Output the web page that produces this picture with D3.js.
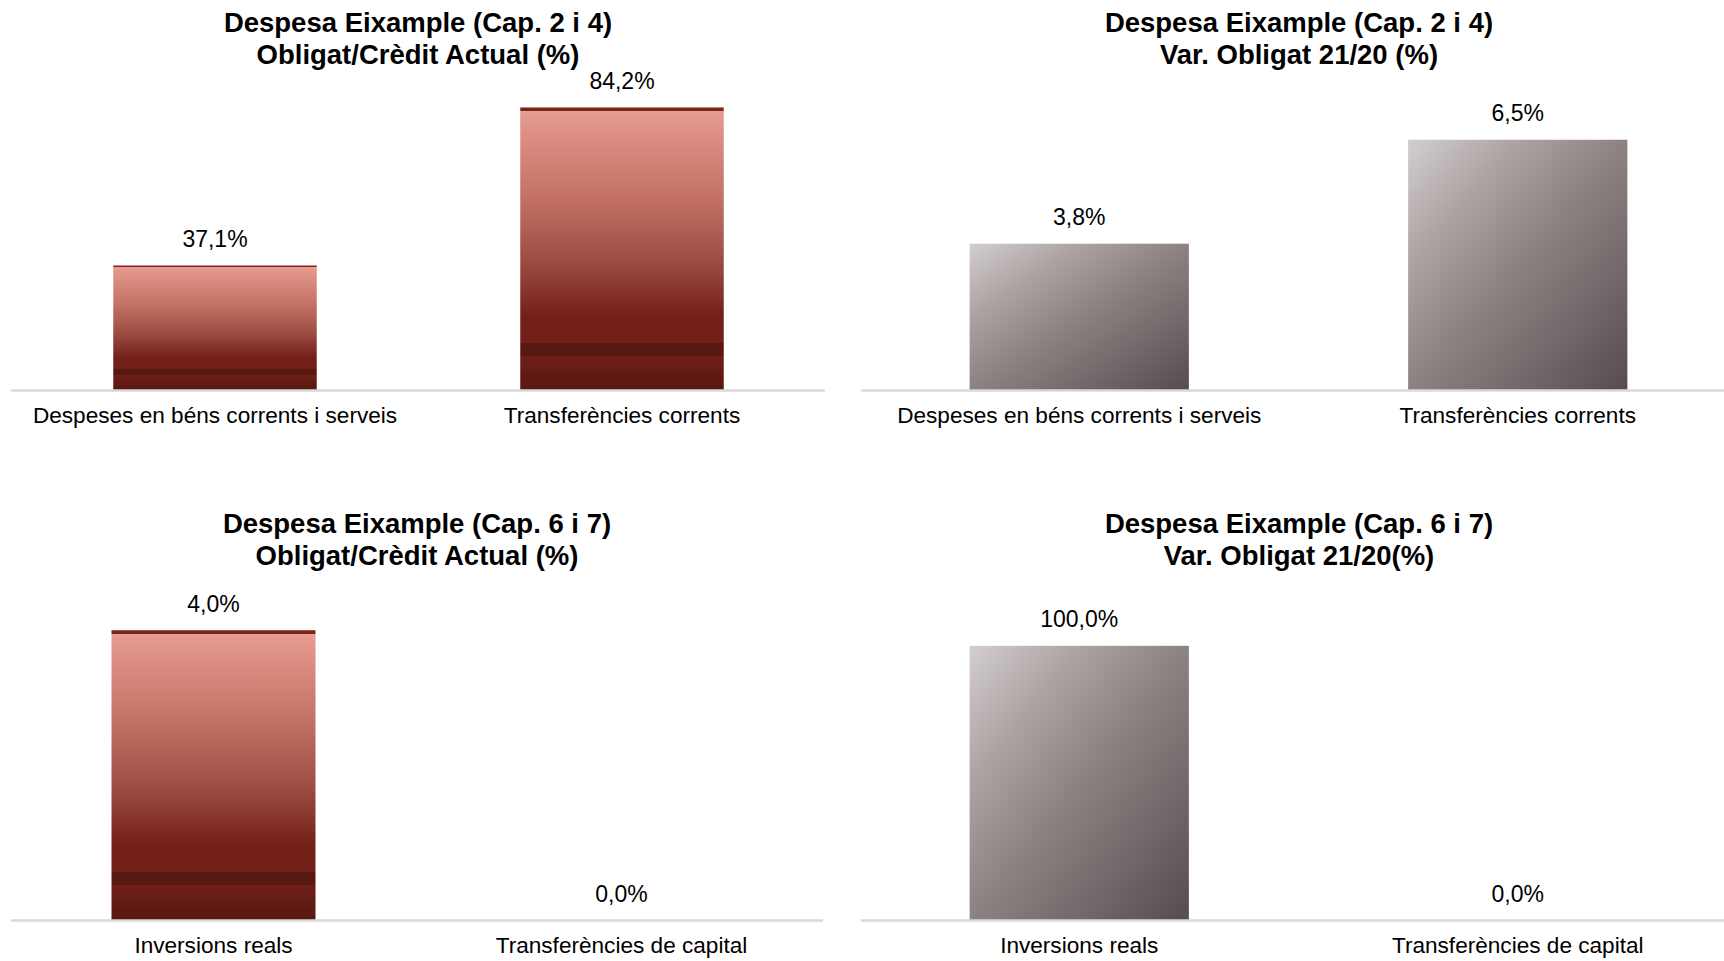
<!DOCTYPE html>
<html>
<head>
<meta charset="utf-8">
<script src="https://cdn.jsdelivr.net/npm/d3@7"></script>
<style>
  html, body { margin: 0; padding: 0; background: #ffffff; }
  svg { display: block; }
  text { font-family: "Liberation Sans", Arial, sans-serif; fill: #000; }
</style>
</head>
<body>
<script>
// ---- Data ----
const categoriesCap24 = ["Despeses en béns corrents i serveis", "Transferències corrents"];
const categoriesCap67 = ["Inversions reals", "Transferències de capital"];
const obligatCreditCap24 = [37.1, 84.2];
const varObligatCap24 = [3.8, 6.5];
const obligatCreditCap67 = [4.0, 0.0];
const varObligatCap67 = [100.0, 0.0];
const titleCap24 = "Despesa Eixample (Cap. 2 i 4)";
const titleCap67 = "Despesa Eixample (Cap. 6 i 7)";
const subtitleOblig = "Obligat/Crèdit Actual (%)";
const subtitleVar = "Var. Obligat 21/20 (%)";
const subtitleVar67 = "Var. Obligat 21/20(%)";
const domainMaxes = [90, 7, 4.5, 120];

// ---- Layout ----
const W = 1724, H = 961;
const svg = d3.select("body").append("svg").attr("width", W).attr("height", H);
const defs = svg.append("defs");

const red = defs.append("linearGradient").attr("id", "gradRed")
  .attr("x1", 0).attr("y1", 0).attr("x2", 0).attr("y2", 1);
[[0, "#7b2419"], [0.014, "#7b2419"], [0.014, "#e99c90"], [0.05, "#e2958a"],
 [0.3, "#c57467"], [0.55, "#9b4c41"], [0.74, "#74201a"], [0.835, "#722019"],
 [0.835, "#561811"], [0.88, "#561811"], [0.88, "#6f1f17"], [1, "#561811"]]
  .forEach(([o, c]) => red.append("stop").attr("offset", o).attr("stop-color", c));

const grey = defs.append("linearGradient").attr("id", "gradGrey")
  .attr("x1", 0).attr("y1", 0).attr("x2", 1).attr("y2", 1);
[[0, "#d3cece"], [0.25, "#ada3a3"], [0.5, "#8d8282"], [0.75, "#736869"], [1, "#574c4d"]]
  .forEach(([o, c]) => grey.append("stop").attr("offset", o).attr("stop-color", c));

const fmt = v => d3.format(".1f")(v).replace(".", ",") + "%";

const panels = [
  { cats: categoriesCap24, vals: obligatCreditCap24, t1: titleCap24, t2: subtitleOblig,
    x0: 11.5, x1: 825.5, axisX: [11, 825], y0: 390, yTop: 88, dmax: domainMaxes[0],
    fill: "url(#gradRed)", tx: 418, ty: 32 },
  { cats: categoriesCap24, vals: varObligatCap24, t1: titleCap24, t2: subtitleVar,
    x0: 860, x1: 1737, axisX: [861, 1724], y0: 390, yTop: 120.5, dmax: domainMaxes[1],
    fill: "url(#gradGrey)", tx: 1299, ty: 32 },
  { cats: categoriesCap67, vals: obligatCreditCap67, t1: titleCap67, t2: subtitleOblig,
    x0: 9.5, x1: 825.5, axisX: [11, 823], y0: 920, yTop: 594, dmax: domainMaxes[2],
    fill: "url(#gradRed)", tx: 417, ty: 533 },
  { cats: categoriesCap67, vals: varObligatCap67, t1: titleCap67, t2: subtitleVar67,
    x0: 860, x1: 1737, axisX: [861, 1724], y0: 920, yTop: 591, dmax: domainMaxes[3],
    fill: "url(#gradGrey)", tx: 1299, ty: 533 }
];

panels.forEach(p => {
  const g = svg.append("g");
  const x = d3.scaleBand().domain(p.cats).range([p.x0, p.x1]).paddingInner(0.5).paddingOuter(0.25);
  const y = d3.scaleLinear().domain([0, p.dmax]).range([p.y0, p.yTop]);
  const data = p.cats.map((c, i) => ({ c, v: p.vals[i] }));

  g.selectAll("rect.bar").data(data).join("rect")
    .attr("class", "bar")
    .attr("x", d => x(d.c))
    .attr("width", x.bandwidth())
    .attr("y", d => y(d.v))
    .attr("height", d => y(0) - y(d.v))
    .attr("fill", p.fill);

  g.append("line")
    .attr("x1", p.axisX[0]).attr("x2", p.axisX[1])
    .attr("y1", y(0) + 0.5).attr("y2", y(0) + 0.5)
    .attr("stroke", "#d9d9d9").attr("stroke-width", 2.5);

  g.selectAll("text.val").data(data).join("text")
    .attr("class", "val")
    .attr("x", d => x(d.c) + x.bandwidth() / 2)
    .attr("y", d => y(d.v) - 18.5)
    .attr("text-anchor", "middle")
    .style("font-size", "23px")
    .text(d => fmt(d.v));

  g.selectAll("text.cat").data(data).join("text")
    .attr("class", "cat")
    .attr("x", d => x(d.c) + x.bandwidth() / 2)
    .attr("y", y(0) + 33)
    .attr("text-anchor", "middle")
    .style("font-size", "22.6px")
    .text(d => d.c);

  const t = g.append("text").attr("text-anchor", "middle")
    .style("font-size", "27.5px").style("font-weight", "bold");
  t.append("tspan").attr("x", p.tx).attr("y", p.ty).text(p.t1);
  t.append("tspan").attr("x", p.tx).attr("y", p.ty + 32).text(p.t2);
});
</script>
</body>
</html>
